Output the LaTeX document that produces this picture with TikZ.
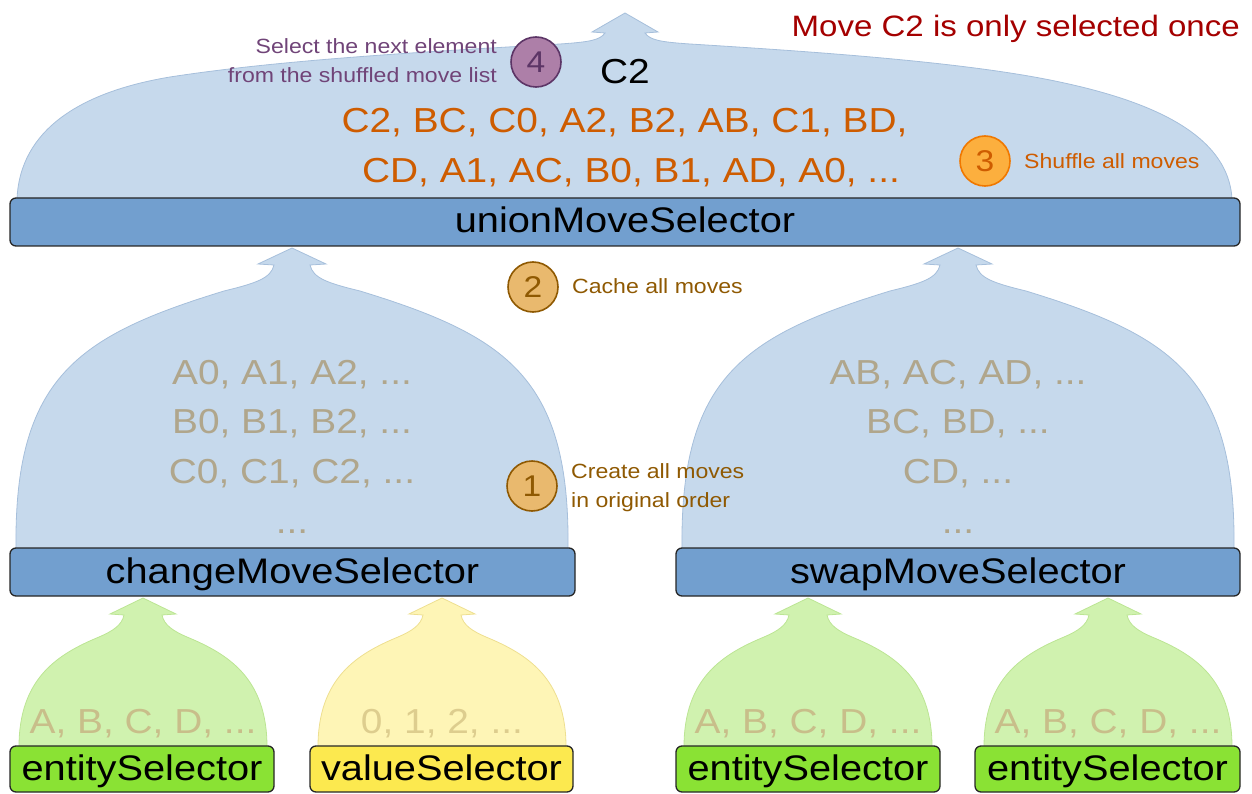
\documentclass[tikz,border=0pt]{standalone}
\usepackage{fontspec}
\setmainfont{Liberation Sans}[FakeStretch=1.12]
\definecolor{blobblue}{HTML}{C6D9EC}
\definecolor{blobblueline}{HTML}{A6BFDB}
\definecolor{boxblue}{HTML}{729FCF}
\definecolor{boxgreen}{HTML}{8AE234}
\definecolor{blobgreen}{HTML}{D0F2AF}
\definecolor{blobgreenline}{HTML}{BCE594}
\definecolor{boxyellow}{HTML}{FCE94F}
\definecolor{blobyellow}{HTML}{FEF5B6}
\definecolor{blobyellowline}{HTML}{EEDF90}
\definecolor{tanblue}{HTML}{B0A68C}
\definecolor{tangreen}{HTML}{C8BE8A}
\definecolor{tanyellow}{HTML}{DDCD8E}
\definecolor{orangetext}{HTML}{CE5C00}
\definecolor{orangefill}{HTML}{FCAF3E}
\definecolor{orangeline}{HTML}{F07800}
\definecolor{brownfill}{HTML}{E9B96E}
\definecolor{browntext}{HTML}{8F5902}
\definecolor{plumfill}{HTML}{AD7FA8}
\definecolor{plumline}{HTML}{5C3566}
\definecolor{plumtext}{HTML}{704478}
\definecolor{redtext}{HTML}{A40000}
\tikzset{
  selbox/.style={draw=black!85, line width=1.3pt, rounded corners=6pt, inner sep=0pt,
    text height=25pt, text depth=3pt, font=\fontsize{35.5}{40}\selectfont},
  bluebox/.style={selbox, fill=boxblue},
  greenbox/.style={selbox, fill=boxgreen},
  yellowbox/.style={selbox, fill=boxyellow},
  blueblob/.style={fill=blobblue, draw=blobblueline, line width=0.8pt},
  greenblob/.style={fill=blobgreen, draw=blobgreenline, line width=0.8pt},
  yellowblob/.style={fill=blobyellow, draw=blobyellowline, line width=0.8pt},
  listtext/.style={inner sep=0pt, anchor=base, font=\fontsize{34.7}{40}\selectfont},
  numcircle/.style={circle, minimum size=50pt, inner sep=0pt, line width=1.6pt,
    font=\fontsize{30}{30}\selectfont},
  note/.style={inner sep=0pt, font=\fontsize{20.6}{25}\selectfont},
}
\newcommand{\smallblob}[3]{\path[#1,shift={(#2,#3)}] (0,0) -- (33,16) -- (19,17)
  .. controls (21,27) and (30,33) .. (44,39) .. controls (85,56) and (124,80) .. (124,149)
  -- (-124,149) .. controls (-124,80) and (-85,56) .. (-44,39)
  .. controls (-30,33) and (-21,27) .. (-19,17) -- (-33,16) -- cycle;}
\newcommand{\midblob}[3]{\path[#1,shift={(#2,#3)}] (0,0) -- (34,16) -- (18,17)
  .. controls (21,30) and (35,35) .. (68,43) .. controls (215,88) and (278,130) .. (276,301)
  -- (-276,301) .. controls (-278,130) and (-215,88) .. (-68,43)
  .. controls (-35,35) and (-21,30) .. (-18,17) -- (-34,16) -- cycle;}
\begin{document}
\begin{tikzpicture}[x=1pt,y=-1pt]
\useasboundingbox (0,0) rectangle (1252,794);
% union blob
\path[blueblob] (625,13) -- (658,32) -- (645,33) .. controls (650,40) and (660,42) .. (690,44)
  .. controls (820,52) and (960,62) .. (1050,80) .. controls (1140,98) and (1228,130) .. (1232,199)
  -- (17,199) .. controls (20,130) and (80,92) .. (170,77)
  .. controls (280,60) and (420,52) .. (560,44) .. controls (590,42) and (600,40) .. (605,33)
  -- (592,32) -- cycle;
% middle blobs
\midblob{blueblob}{292}{248}
\midblob{blueblob}{958}{248}
% small blobs
\smallblob{greenblob}{143}{598}
\smallblob{yellowblob}{442}{598}
\smallblob{greenblob}{808}{598}
\smallblob{greenblob}{1108}{598}

% top texts
\node[inner sep=0pt, anchor=base east, text=redtext, font=\fontsize{29.5}{34}\selectfont] (once) at (1240,37) {Move C2 is only selected once};
\node[note, anchor=base east, text=plumtext] (sel1) at (497,54) {Select the next element};
\node[note, anchor=base east, text=plumtext] (sel2) at (497,83) {from the shuffled move list};
\node[numcircle, draw=plumline, fill=plumfill, text=plumline] (c4) at (536,62) {4};
\node[listtext, text=black] (pick) at (625,84) {C2};
\node[listtext, text=orangetext] (shufA) at (624.5,133) {C2, BC, C0, A2, B2, AB, C1, BD,};
\node[listtext, text=orangetext] (shufB) at (631,183) {CD, A1, AC, B0, B1, AD, A0, ...};
\node[numcircle, draw=orangeline, fill=orangefill, text=orangetext] (c3) at (985,161) {3};
\node[note, anchor=base west, text=orangetext] (shufnote) at (1024,169) {Shuffle all moves};

% union box
\node[bluebox, minimum width=1230pt, minimum height=48pt] (union) at (625,222) {unionMoveSelector};

% cache
\node[numcircle, draw=browntext, fill=brownfill, text=browntext] (c2) at (533,287) {2};
\node[note, anchor=base west, text=browntext] (cachenote) at (572,293) {Cache all moves};

% change blob texts
\node[listtext, text=tanblue] (chA) at (292,384) {A0, A1, A2, ...};
\node[listtext, text=tanblue] (chB) at (292,433) {B0, B1, B2, ...};
\node[listtext, text=tanblue] (chC) at (292,483) {C0, C1, C2, ...};
\node[listtext, text=tanblue] (chD) at (292,533) {...};
% swap blob texts
\node[listtext, text=tanblue] (swA) at (958,384) {AB, AC, AD, ...};
\node[listtext, text=tanblue] (swB) at (958,433) {BC, BD, ...};
\node[listtext, text=tanblue] (swC) at (958,483) {CD, ...};
\node[listtext, text=tanblue] (swD) at (958,533) {...};

% create
\node[numcircle, draw=browntext, fill=brownfill, text=browntext] (c1) at (532,486) {1};
\node[note, anchor=base west, text=browntext] (create1) at (571,478) {Create all moves};
\node[note, anchor=base west, text=browntext] (create2) at (571,507) {in original order};

% middle boxes
\node[bluebox, minimum width=565pt, minimum height=48pt] (change) at (292.5,572) {changeMoveSelector};
\node[bluebox, minimum width=564pt, minimum height=48pt] (swap) at (958,572) {swapMoveSelector};

% small blob texts
\node[listtext, text=tangreen] (e1t) at (143,733) {A, B, C, D, ...};
\node[listtext, text=tanyellow] (vt) at (442,733) {0, 1, 2, ...};
\node[listtext, text=tangreen] (e2t) at (808,733) {A, B, C, D, ...};
\node[listtext, text=tangreen] (e3t) at (1108,733) {A, B, C, D, ...};

% small boxes
\node[greenbox, minimum width=264pt, minimum height=46pt] (ent1) at (142,769) {entitySelector};
\node[yellowbox, minimum width=263pt, minimum height=46pt] (val) at (441.5,769) {valueSelector};
\node[greenbox, minimum width=264pt, minimum height=46pt] (ent2) at (808,769) {entitySelector};
\node[greenbox, minimum width=265pt, minimum height=46pt] (ent3) at (1107.5,769) {entitySelector};
\end{tikzpicture}
\end{document}
